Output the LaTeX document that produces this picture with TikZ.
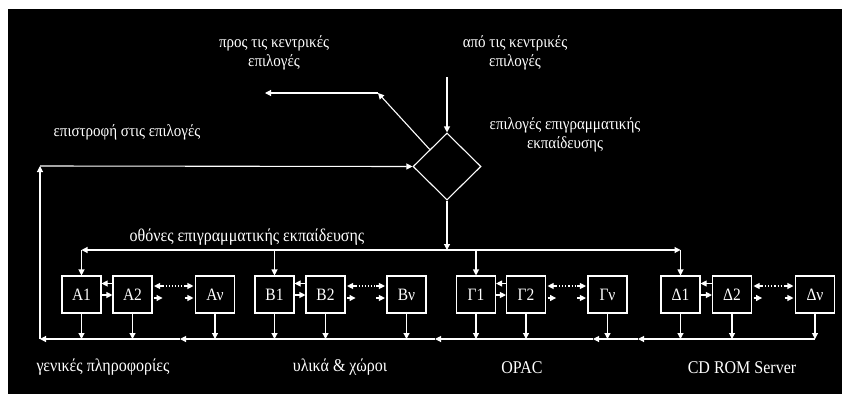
\documentclass[tikz,border=0pt]{standalone}
\usepackage{fontspec}
\setmainfont{Liberation Serif}
\usetikzlibrary{shapes.geometric,arrows.meta}
\newcommand\vstr[1]{\scalebox{1}[1.12]{#1}}
\begin{document}
\begin{tikzpicture}[x=1pt,y=-1pt,
  line/.style={draw=white,line width=1.1pt},
  arr/.style={line,-{Triangle[length=6pt,width=6pt]}},
  dots/.style={draw=white,line width=1.1pt,dotted},
  box/.style={draw=white,line width=1.1pt,minimum width=39pt,minimum height=37pt,inner sep=0pt,text=white,font=\fontsize{15.5}{17}\selectfont},
  lbl/.style={text=white,font=\fontsize{16}{18}\selectfont,align=center,inner sep=0pt},
  toplbl/.style={text=white,font=\fontsize{15}{19}\selectfont,align=center,inner sep=0pt}]
\useasboundingbox (0,0) rectangle (842,394);
\fill[white] (0,0) rectangle (842,394);
\fill[black] (8,9) rectangle (842,394);

% texts
\node[toplbl] (t1) at (274,52.5) {\vstr{προς τις κεντρικές}\\\vstr{επιλογές}};
\node[toplbl] (t2) at (515,52.5) {\vstr{από τις κεντρικές}\\\vstr{επιλογές}};
\node[toplbl] (t3) at (565,135) {\vstr{επιλογές επιγραμματικής}\\\vstr{εκπαίδευσης}};
\node[toplbl] (t4) at (127,132) {\vstr{επιστροφή στις επιλογές}};
\node[lbl] (t5) at (247,237) {\vstr{οθόνες επιγραμματικής εκπαίδευσης}};
\node[lbl] (t6) at (103,367) {\vstr{γενικές πληροφορίες}};
\node[lbl] (t7) at (340,367) {\vstr{υλικά \& χώροι}};
\node[lbl] (t8) at (522,368) {\vstr{OPAC}};
\node[lbl] (t9) at (742,368) {\vstr{CD ROM Server}};

% diamond
\node[diamond,draw=white,line width=1.1pt,minimum width=68pt,minimum height=67pt,inner sep=0pt] (dia) at (447,166.5) {};
\coordinate (top) at (447,77);
\coordinate (dg) at (378,93);
\coordinate (pl) at (265,93);
\draw[arr] (top) -- (dia.north);
\draw[arr] (dia.north west) -- (dg);
\draw[arr] (dg) -- (pl);

% boxes
\node[box] (A1) at (81.5,294.5) {\vstr{Α1}};
\node[box] (A2) at (132.5,294.5) {\vstr{Α2}};
\node[box] (Av) at (215,294.5) {\vstr{Αν}};
\node[box] (B1) at (274.5,294.5) {\vstr{Β1}};
\node[box] (B2) at (325.5,294.5) {\vstr{Β2}};
\node[box] (Bv) at (406.5,294.5) {\vstr{Βν}};
\node[box] (G1) at (476,294.5) {\vstr{Γ1}};
\node[box] (G2) at (526,294.5) {\vstr{Γ2}};
\node[box] (Gv) at (607.5,294.5) {\vstr{Γν}};
\node[box] (D1) at (680.5,294.5) {\vstr{Δ1}};
\node[box] (D2) at (732,294.5) {\vstr{Δ2}};
\node[box] (Dv) at (815,294.5) {\vstr{Δν}};

% arrows between boxes
\foreach \g in {A,B,G,D}{
  \draw[arr] ([yshift=11pt]\g2.west) -- ([yshift=11pt]\g1.east);
  \draw[arr] ([yshift=-0.5pt]\g1.east) -- ([yshift=-0.5pt]\g2.west);
  \draw[arr] ([xshift=10pt,yshift=8.5pt]\g2.east) -- ([xshift=1.5pt,yshift=8.5pt]\g2.east);
  \draw[dots] ([xshift=10pt,yshift=8.5pt]\g2.east) -- ([xshift=-10pt,yshift=8.5pt]\g v.west);
  \draw[arr] ([xshift=-10pt,yshift=8.5pt]\g v.west) -- ([xshift=-1.5pt,yshift=8.5pt]\g v.west);
  \draw[arr] ([xshift=1.5pt,yshift=-3.5pt]\g2.east) -- ([xshift=10pt,yshift=-3.5pt]\g2.east);
  \draw[arr] ([xshift=-10pt,yshift=-3.5pt]\g v.west) -- ([xshift=-1.5pt,yshift=-3.5pt]\g v.west);
}

% top bus
\coordinate (busc) at (447,250);
\draw[arr] (dia.south) -- (busc);
\draw[arr] (busc) -- (A1.north |- busc);
\draw[arr] (A1.north |- busc) -- (A1.north);
\draw[arr] (B1.north |- busc) -- (B1.north);
\draw[arr] (G1.north |- busc) -- (G1.north);
\draw[arr] (busc) -- (D1.north |- busc);
\draw[arr] (D1.north |- busc) -- (D1.north);

% bottom bus
\coordinate (bot) at (0,339);
\foreach \n in {A1,A2,Av,B1,B2,Bv,G1,G2,Gv,D1,D2,Dv}{
  \draw[arr] (\n.south) -- (\n.south |- bot);
}
\coordinate (m4) at (638,339);
\coordinate (m3) at (593,339);
\coordinate (m2) at (435,339);
\coordinate (m1) at (180,339);
\coordinate (b0) at (40,339);
\coordinate (c0) at (40,166);
\draw[arr] (Dv.south |- bot) -- (m4);
\draw[arr] (m4) -- (m3);
\draw[arr] (m3) -- (m2);
\draw[arr] (m2) -- (m1);
\draw[arr] (m1) -- (b0);
\draw[arr] (b0) -- (c0);
\draw[arr] (c0) -- (dia.west);
\end{tikzpicture}
\end{document}
